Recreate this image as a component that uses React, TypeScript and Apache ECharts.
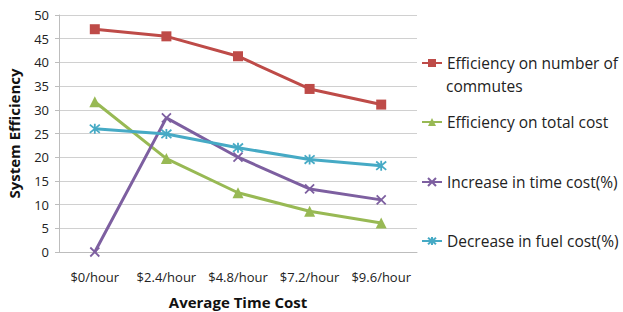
import React, { useEffect, useRef } from "react";
import * as echarts from "echarts";

const categories = ["$0/hour", "$2.4/hour", "$4.8/hour", "$7.2/hour", "$9.6/hour"];
const seriesNames = [
  "Efficiency on number of commutes",
  "Efficiency on total cost",
  "Increase in time cost(%)",
  "Decrease in fuel cost(%)",
];
const commutes = [47, 45.5, 41.3, 34.4, 31.1];
const totalCost = [31.7, 19.7, 12.5, 8.6, 6.1];
const timeCost = [0, 28.3, 20, 13.3, 11];
const fuelCost = [26, 24.9, 22, 19.5, 18.2];
const colors = ["#be4b48", "#98b954", "#7d5fa0", "#46aac5"];

const crossPath = "path://M0,0L10,10M10,0L0,10";
const starPath = "path://M0,0L10,10M10,0L0,10M5,-1L5,11";

export default function App() {
  const ref = useRef<HTMLDivElement>(null);
  useEffect(() => {
    const chart = echarts.init(ref.current!, null, { renderer: "svg" });
    const font = "'Open Sans', 'Noto Sans', sans-serif";
    const mk = (i: number, data: number[], symbol: string, size: number, stroke: boolean) => ({
      name: seriesNames[i],
      type: "line",
      data,
      symbol,
      symbolSize: size,
      lineStyle: { color: colors[i], width: 3 },
      itemStyle: stroke
        ? { color: colors[i], borderColor: colors[i], borderWidth: 1.8 }
        : { color: colors[i] },
    });
    const legendCenters = [63, 122, 182, 241];
    const legendFont = 15.5;
    chart.setOption({
      animation: false,
      color: colors,
      textStyle: { fontFamily: font },
      grid: {
        left: 59,
        right: 206,
        top: 15,
        bottom: 60,
        containLabel: false,
        outerBoundsMode: "none",
      },
      legend: seriesNames.map((n, i) => ({
        data: [n],
        left: 421,
        top: legendCenters[i] - 11.5,
        padding: 0,
        itemWidth: 20,
        itemHeight: 10,
        formatter: (name: string) => (i === 0 ? "Efficiency on number of" : name),
        textStyle: { fontSize: legendFont, color: "#222", fontFamily: font, lineHeight: 23 },
        selectedMode: false,
      })),
      graphic: [
        {
          type: "text",
          left: 446,
          top: 86 - 11.5,
          style: {
            text: "commutes",
            fontSize: legendFont,
            fontFamily: font,
            fill: "#222",
            lineHeight: 23,
          },
        },
      ],
      xAxis: {
        type: "category",
        data: categories,
        boundaryGap: true,
        axisLine: { lineStyle: { color: "#bdbdbd" } },
        axisTick: { show: false },
        axisLabel: { fontSize: 13, color: "#222", margin: 18, interval: 0, hideOverlap: false, fontFamily: font },
        name: "Average Time Cost",
        nameLocation: "middle",
        nameGap: 42,
        nameTextStyle: { fontSize: 15, fontWeight: "bold", color: "#111", fontFamily: font },
      },
      yAxis: {
        type: "value",
        min: 0,
        max: 50,
        interval: 5,
        axisLine: { show: true, lineStyle: { color: "#bdbdbd" } },
        axisTick: { show: true, length: 4, lineStyle: { color: "#bdbdbd" } },
        splitLine: { lineStyle: { color: "#d0d0d0" } },
        axisLabel: { fontSize: 13, color: "#222", margin: 10, fontFamily: font },
        name: "System Efficiency",
        nameLocation: "middle",
        nameGap: 38,
        nameTextStyle: { fontSize: 15, fontWeight: "bold", color: "#111", fontFamily: font },
      },
      series: [
        mk(0, commutes, "rect", 10, false),
        mk(1, totalCost, "triangle", 11, false),
        mk(2, timeCost, crossPath, 9, true),
        mk(3, fuelCost, starPath, 10, true),
      ],
    });
    return () => chart.dispose();
  }, []);
  return <div ref={ref} style={{ width: 623, height: 312, position: "absolute", left: 0, top: 0 }} />;
}
